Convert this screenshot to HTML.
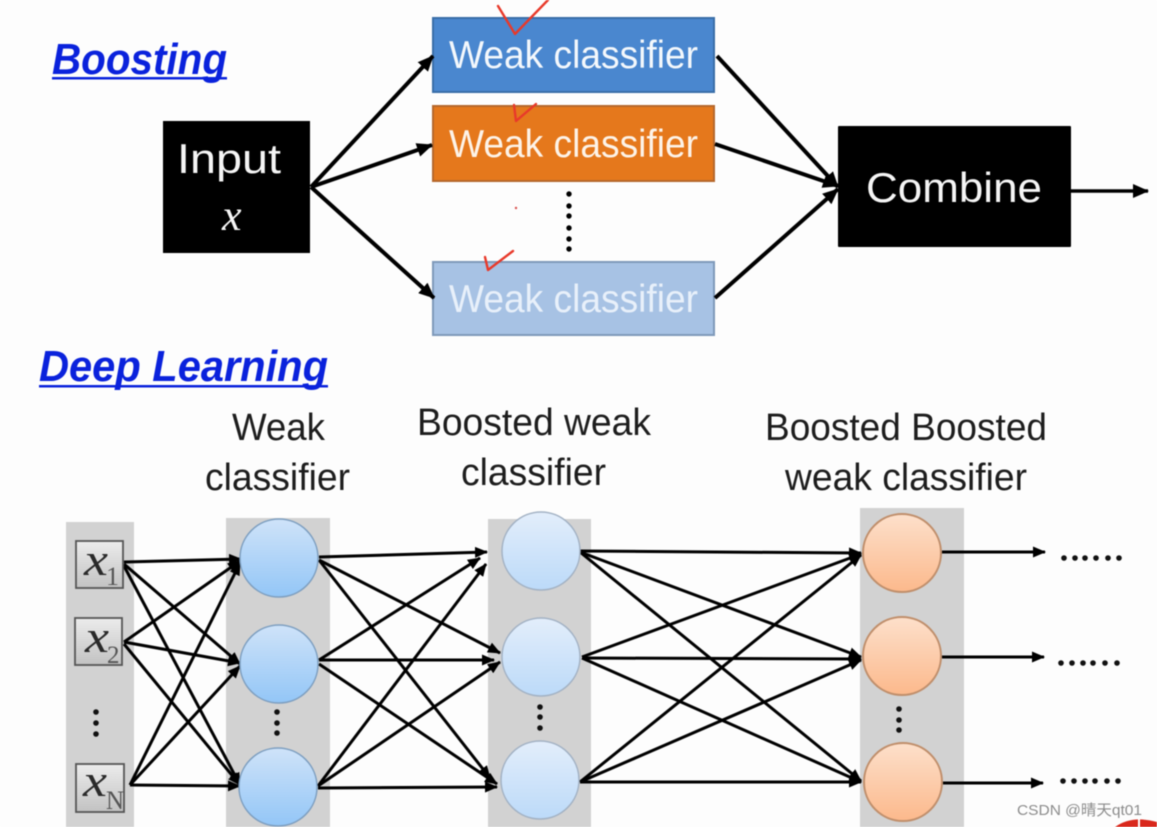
<!DOCTYPE html>
<html><head><meta charset="utf-8"><style>
html,body{margin:0;padding:0;background:#fdfdfd;overflow:hidden}
svg{display:block;filter:blur(0.55px)}
text{font-family:"Liberation Sans",sans-serif}
</style></head><body>
<svg width="1157" height="827" viewBox="0 0 1157 827" xmlns="http://www.w3.org/2000/svg">
<defs>
<marker id="a" markerUnits="userSpaceOnUse" markerWidth="16" markerHeight="14" refX="15" refY="7" orient="auto"><path d="M0 0L16 7L0 14z" fill="#000"/></marker>
<marker id="b" markerUnits="userSpaceOnUse" markerWidth="13" markerHeight="11" refX="12" refY="5.5" orient="auto"><path d="M0 0L13 5.5L0 11z" fill="#000"/></marker>
<linearGradient id="bl" x1="0" y1="0" x2="0" y2="1"><stop offset="0" stop-color="#cfe3f9"/><stop offset="1" stop-color="#93c6f7"/></linearGradient>
<linearGradient id="lb" x1="0" y1="0" x2="0" y2="1"><stop offset="0" stop-color="#e3eefb"/><stop offset="1" stop-color="#bcdaf9"/></linearGradient>
<linearGradient id="or" x1="0" y1="0" x2="0" y2="1"><stop offset="0" stop-color="#fde0cb"/><stop offset="1" stop-color="#fcb98c"/></linearGradient>
<linearGradient id="bx" x1="0" y1="0" x2="0" y2="1"><stop offset="0" stop-color="#ececec"/><stop offset="1" stop-color="#c2c2c2"/></linearGradient>
</defs>
<rect width="1157" height="827" fill="#fdfdfd"/>

<!-- Boosting -->
<text x="52" y="74" font-size="44" font-weight="bold" font-style="italic" fill="#0a22dc" textLength="175" lengthAdjust="spacingAndGlyphs">Boosting</text>
<rect x="52" y="77" width="175" height="2.5" fill="#0a22dc"/>
<rect x="433" y="18" width="281" height="74" fill="#4a87cf" stroke="#3a6ea8" stroke-width="2"/>
<rect x="433" y="106" width="281" height="75" fill="#e5781c" stroke="#b5682c" stroke-width="2"/>
<rect x="433" y="262" width="281" height="73" fill="#a7c2e4" stroke="#7f99b9" stroke-width="2"/>
<g font-size="39" fill="#f4f8fc">
<text x="449" y="68" textLength="249" lengthAdjust="spacingAndGlyphs">Weak classifier</text>
<text x="449" y="157" textLength="249" lengthAdjust="spacingAndGlyphs" fill="#fdf3e8">Weak classifier</text>
<text x="449" y="312" textLength="249" lengthAdjust="spacingAndGlyphs" fill="#e8f0fa">Weak classifier</text>
</g>
<rect x="163" y="121" width="147" height="132" fill="#000"/>
<rect x="838" y="126" width="233" height="121" fill="#000" rx="1"/>
<text x="177" y="173" font-size="42" fill="#f5f5f5" textLength="104" lengthAdjust="spacingAndGlyphs">Input</text>
<text x="222" y="230" font-size="44" font-style="italic" fill="#f5f5f5" style="font-family:'Liberation Serif',serif">x</text>
<text x="866" y="202" font-size="42" fill="#f5f5f5" textLength="176" lengthAdjust="spacingAndGlyphs">Combine</text>
<g stroke="#000" stroke-width="4" fill="none">
<line x1="311" y1="187" x2="433" y2="56" marker-end="url(#a)"/>
<line x1="311" y1="187" x2="432" y2="145" marker-end="url(#a)"/>
<line x1="311" y1="187" x2="434" y2="298" marker-end="url(#a)"/>
<line x1="717" y1="56" x2="838" y2="187" marker-end="url(#a)"/>
<line x1="715" y1="144" x2="838" y2="186" marker-end="url(#a)"/>
<line x1="715" y1="298" x2="838" y2="189" marker-end="url(#a)"/>
<line x1="1071" y1="191" x2="1148" y2="191" stroke-width="3.5" marker-end="url(#a)"/>
</g>
<g fill="#000"><circle cx="569" cy="194" r="2.7"/><circle cx="569" cy="206" r="2.7"/><circle cx="569" cy="216" r="2.7"/><circle cx="569" cy="228" r="2.7"/><circle cx="569" cy="239" r="2.7"/><circle cx="569" cy="249" r="2.7"/></g>
<g fill="none" stroke="#e8392a" stroke-width="2.4" stroke-linejoin="round" stroke-linecap="round">
<path d="M498 6L515 34L548 0"/>
<path d="M514 105L516 121L536 104"/>
<path d="M485 257L488 270L513 251"/>
</g>
<circle cx="516" cy="208" r="1.2" fill="#d9534f"/>

<!-- Deep Learning -->
<text x="39" y="381" font-size="44" font-weight="bold" font-style="italic" fill="#0a22dc" textLength="289" lengthAdjust="spacingAndGlyphs">Deep Learning</text>
<rect x="39" y="385" width="289" height="2.5" fill="#0a22dc"/>
<g font-size="38" fill="#1d1d1d">
<text x="232" y="440" textLength="93" lengthAdjust="spacingAndGlyphs">Weak</text>
<text x="205" y="490" textLength="145" lengthAdjust="spacingAndGlyphs">classifier</text>
<text x="417" y="435" textLength="234" lengthAdjust="spacingAndGlyphs">Boosted weak</text>
<text x="461" y="485" textLength="145" lengthAdjust="spacingAndGlyphs">classifier</text>
<text x="765" y="440" textLength="282" lengthAdjust="spacingAndGlyphs">Boosted Boosted</text>
<text x="785" y="490" textLength="242" lengthAdjust="spacingAndGlyphs">weak classifier</text>
</g>

<!-- columns -->
<g fill="#d2d2d2">
<rect x="66" y="522" width="68" height="305"/>
<rect x="226" y="518" width="104" height="309"/>
<rect x="488" y="519" width="103" height="308"/>
<rect x="860" y="508" width="104" height="319"/>
</g>

<!-- connectors -->
<g stroke="#000" stroke-width="3" fill="none">
<g marker-end="url(#b)">
<line x1="124" y1="562" x2="241" y2="559"/>
<line x1="124" y1="564" x2="240" y2="664"/>
<line x1="124" y1="566" x2="240" y2="785"/>
<line x1="124" y1="642" x2="240" y2="561"/>
<line x1="124" y1="642" x2="240" y2="663"/>
<line x1="124" y1="644" x2="240" y2="785"/>
<line x1="130" y1="785" x2="240" y2="563"/>
<line x1="130" y1="785" x2="240" y2="666"/>
<line x1="130" y1="785" x2="240" y2="786"/>

<line x1="319" y1="557" x2="487" y2="552"/>
<line x1="319" y1="560" x2="500" y2="653"/>
<line x1="319" y1="560" x2="490" y2="778"/>
<line x1="319" y1="660" x2="480" y2="558"/>
<line x1="319" y1="660" x2="494" y2="660"/>
<line x1="319" y1="664" x2="497" y2="784"/>
<line x1="318" y1="786" x2="486" y2="564"/>
<line x1="318" y1="786" x2="500" y2="662"/>
<line x1="318" y1="788" x2="497" y2="787"/>

<line x1="580" y1="551" x2="861" y2="553"/>
<line x1="580" y1="552" x2="861" y2="657"/>
<line x1="580" y1="552" x2="861" y2="781"/>
<line x1="582" y1="657" x2="861" y2="554"/>
<line x1="582" y1="658" x2="861" y2="659"/>
<line x1="582" y1="658" x2="861" y2="782"/>
<line x1="580" y1="782" x2="861" y2="555"/>
<line x1="580" y1="782" x2="861" y2="660"/>
<line x1="580" y1="782" x2="861" y2="782"/>

<line x1="942" y1="552" x2="1045" y2="552"/>
<line x1="942" y1="657" x2="1044" y2="657"/>
<line x1="943" y1="783" x2="1043" y2="783"/>
</g>
</g>

<!-- input boxes -->
<g stroke="#555" stroke-width="1.8" fill="url(#bx)">
<rect x="76" y="541" width="47" height="47"/>
<rect x="75" y="618" width="47" height="47"/>
<rect x="76" y="764" width="48" height="48"/>
</g>
<g fill="#2a2a2a">
<text x="84" y="575" font-size="46" font-style="italic" style="font-family:'Liberation Serif',serif" textLength="24" lengthAdjust="spacingAndGlyphs">x</text>
<text x="106" y="585" font-size="26" fill="#555" style="font-family:'Liberation Serif',serif">1</text>
<text x="85" y="652" font-size="46" font-style="italic" style="font-family:'Liberation Serif',serif" textLength="24" lengthAdjust="spacingAndGlyphs">x</text>
<text x="107" y="663" font-size="25" fill="#555" style="font-family:'Liberation Serif',serif">2</text>
<text x="83" y="796" font-size="46" font-style="italic" style="font-family:'Liberation Serif',serif" textLength="24" lengthAdjust="spacingAndGlyphs">x</text>
<text x="106" y="809" font-size="26" fill="#555" style="font-family:'Liberation Serif',serif" textLength="18" lengthAdjust="spacingAndGlyphs">N</text>
</g>

<!-- circles -->
<g fill="url(#bl)" stroke="#7e9fc0" stroke-width="1.5">
<circle cx="279" cy="558" r="39"/>
<circle cx="279" cy="664" r="39"/>
<circle cx="278" cy="787" r="39"/>
</g>
<g fill="url(#lb)" stroke="#a3b2c4" stroke-width="1.5">
<circle cx="541" cy="551" r="39"/>
<circle cx="541" cy="657" r="39"/>
<circle cx="540" cy="780" r="39"/>
</g>
<g fill="url(#or)" stroke="#c08f6c" stroke-width="2">
<circle cx="902" cy="553" r="39"/>
<circle cx="902" cy="656" r="39"/>
<circle cx="903" cy="782" r="39"/>
</g>

<!-- dots -->
<g fill="#111">
<circle cx="96" cy="712" r="2.8"/><circle cx="96" cy="723" r="2.8"/><circle cx="96" cy="734" r="2.8"/>
<circle cx="277" cy="712" r="2.8"/><circle cx="277" cy="723" r="2.8"/><circle cx="277" cy="733" r="2.8"/>
<circle cx="540" cy="707" r="2.8"/><circle cx="540" cy="717" r="2.8"/><circle cx="540" cy="728" r="2.8"/>
<circle cx="899" cy="709" r="2.8"/><circle cx="899" cy="720" r="2.8"/><circle cx="899" cy="730" r="2.8"/>
<circle cx="1064" cy="558" r="2.8"/><circle cx="1075" cy="558" r="2.8"/><circle cx="1085" cy="558" r="2.8"/><circle cx="1096" cy="558" r="2.8"/><circle cx="1108" cy="558" r="2.8"/><circle cx="1119" cy="558" r="2.8"/>
<circle cx="1061" cy="663" r="2.8"/><circle cx="1072" cy="663" r="2.8"/><circle cx="1083" cy="663" r="2.8"/><circle cx="1093" cy="663" r="2.8"/><circle cx="1105" cy="663" r="2.8"/><circle cx="1117" cy="663" r="2.8"/>
<circle cx="1063" cy="781" r="2.8"/><circle cx="1074" cy="781" r="2.8"/><circle cx="1085" cy="781" r="2.8"/><circle cx="1095" cy="781" r="2.8"/><circle cx="1107" cy="781" r="2.8"/><circle cx="1118" cy="781" r="2.8"/>
</g>

<!-- watermark -->
<text x="1017" y="815" font-size="15" fill="#8c8c8c" style="font-family:'Liberation Sans','Noto Sans CJK SC',sans-serif" textLength="125" lengthAdjust="spacingAndGlyphs">CSDN @晴天qt01</text>
<path d="M1115 827Q1132 815 1157 822V827z" fill="#d9281c"/>
<rect x="1138" y="817" width="2" height="10" fill="#fff"/>
</svg>
</body></html>
